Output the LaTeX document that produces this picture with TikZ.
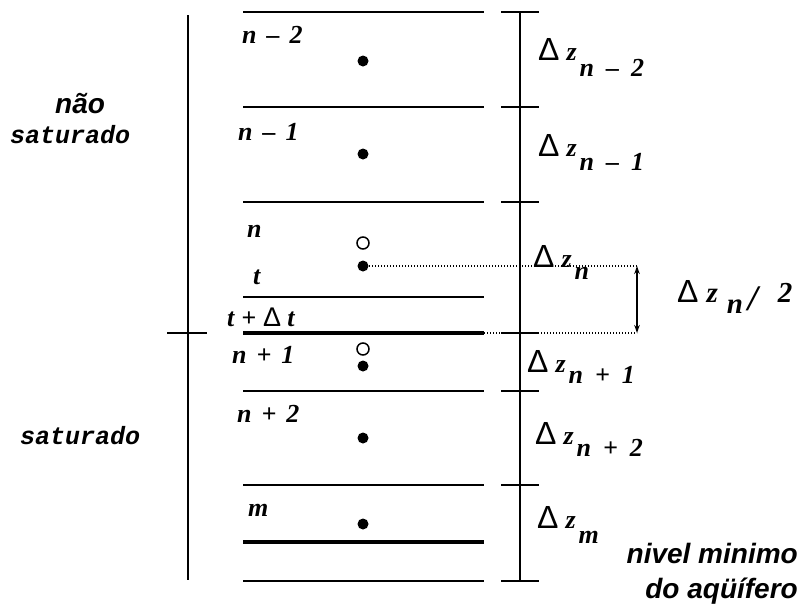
\documentclass[tikz,border=0pt]{standalone}
\usepackage{fontspec}
\setmainfont{Liberation Serif}
\newfontfamily\sansf{Liberation Sans}
\newfontfamily\monof{Liberation Mono}
\usetikzlibrary{arrows.meta}
\newcommand{\lblf}{\fontsize{26}{26}\selectfont\bfseries\itshape}
\newcommand{\bigf}{\fontsize{29}{29}\selectfont\bfseries\itshape}
\newcommand{\slashf}{\fontsize{36}{36}\selectfont\bfseries\itshape}
\newcommand{\sg}{\hspace{10pt}}
\newcommand{\dlt}{{\sansf\fontsize{32}{32}\selectfont Δ}}
\newcommand{\dzlab}[2]{\dlt\hspace{7pt}{\lblf z}\hspace{3pt}\raisebox{-#2}{\lblf #1}}
\begin{document}
\begin{tikzpicture}[x=1pt,y=-1pt,
  layer/.style={line width=1.8pt},
  thicklayer/.style={line width=3.2pt},
  axis/.style={line width=1.6pt},
  fdot/.style={circle,fill=black,inner sep=0pt,minimum size=11pt},
  odot/.style={circle,draw=black,line width=1.5pt,inner sep=0pt,minimum size=12pt},
  lab/.style={anchor=base west,inner sep=0pt,font=\lblf},
  dzl/.style={anchor=base west,inner sep=0pt},
  side/.style={anchor=base west,inner sep=0pt,font=\monof\fontsize{25}{25}\selectfont\bfseries\itshape},
  sidesans/.style={inner sep=0pt,font=\sansf\fontsize{28}{28}\selectfont\bfseries\itshape},
  dotline/.style={line width=1.3pt,dash pattern=on 1.3pt off 1.7pt},
  dimarrow/.style={line width=1.4pt,<->,>={Stealth[length=8pt,width=5.5pt]}}]
\useasboundingbox (0,0) rectangle (807,608);

% layer lines
\foreach \y/\n in {12/a,107/b,202/c,297/d,391/f,485/g,581/i}{
  \coordinate (L\n w) at (243,\y); \coordinate (L\n e) at (484,\y);
  \draw[layer] (L\n w) -- (L\n e);}
\foreach \y/\n in {333/e,542/h}{
  \coordinate (L\n w) at (243,\y); \coordinate (L\n e) at (484,\y);
  \draw[thicklayer] (L\n w) -- (L\n e);}

% left axis
\coordinate (lt) at (188,15); \coordinate (lb) at (188,580);
\draw[axis] (lt) -- (lb);
\coordinate (ltw) at (167,333); \coordinate (lte) at (207,333);
\draw[axis] (ltw) -- (lte);

% right axis
\coordinate (rt) at (520,12); \coordinate (rb) at (520,581);
\draw[axis] (rt) -- (rb);
\foreach \y/\n in {12/a,107/b,202/c,333/e,391/f,485/g,581/i}{
  \coordinate (T\n w) at (501,\y); \coordinate (T\n e) at (539,\y);
  \draw[axis] (T\n w) -- (T\n e);}

% dots
\node[fdot] (d1) at (363,61) {};
\node[fdot] (d2) at (363,154) {};
\node[odot] (o3) at (363,243) {};
\node[fdot] (d3) at (363,266) {};
\node[odot] (o4) at (363,349) {};
\node[fdot] (d4) at (363,366) {};
\node[fdot] (d5) at (363,438) {};
\node[fdot] (d6) at (363,524) {};

% dotted lines and half-thickness arrow
\coordinate (q1) at (637,266);
\coordinate (q2) at (637,333);
\draw[dotline] (d3.center) -- (q1);
\draw[dotline] (Lee) -- (q2);
\draw[dimarrow] (q1) -- (q2);

% layer labels
\node[lab] (ln2) at (242,43) {n\sg–\sg2};
\node[lab] (ln1) at (238,140) {n\sg–\sg1};
\node[lab] (ln)  at (247,237) {n};
\node[lab] (lt0) at (253,284) {t};
\node[lab] (ltd) at (227,326) {t\hspace{7pt}+\hspace{7pt}{\sansf\fontsize{27}{27}\selectfont\mdseries\upshape Δ}\hspace{6pt}t};
\node[lab] (lp1) at (232,363) {n\sg+\sg1};
\node[lab] (lp2) at (237,422) {n\sg+\sg2};
\node[lab] (lm)  at (248,516) {m};

% thickness labels
\node[dzl] (z1) at (538,60)  {\dzlab{n\hspace{12pt}–\hspace{12pt}2}{16pt}};
\node[dzl] (z2) at (538,156) {\dzlab{n\hspace{12pt}–\hspace{12pt}1}{14pt}};
\node[dzl] (z3) at (533,267) {\dzlab{n}{12pt}};
\node[dzl] (z4) at (527,372) {\dzlab{n\hspace{12pt}+\hspace{12pt}1}{11pt}};
\node[dzl] (z5) at (535,444) {\dzlab{n\hspace{12pt}+\hspace{12pt}2}{12pt}};
\node[dzl] (z6) at (537,528) {\dzlab{m}{15pt}};
\node[dzl] (zh) at (677,302) {\dlt\hspace{8pt}{\bigf z}\hspace{9pt}\raisebox{-11pt}{\bigf n}\hspace{5pt}\raisebox{-8pt}{\slashf /}\hspace{20pt}{\bigf 2}};

% side labels
\node[sidesans,anchor=base west] (nao) at (55,113) {não};
\node[side] (sat1) at (10,143) {saturado};
\node[side] (sat2) at (20,444) {saturado};
\node[sidesans,anchor=base east] (niv) at (798,563) {nivel minimo};
\node[sidesans,anchor=base east] (aqu) at (798,598) {do aqüífero};
\end{tikzpicture}
\end{document}
